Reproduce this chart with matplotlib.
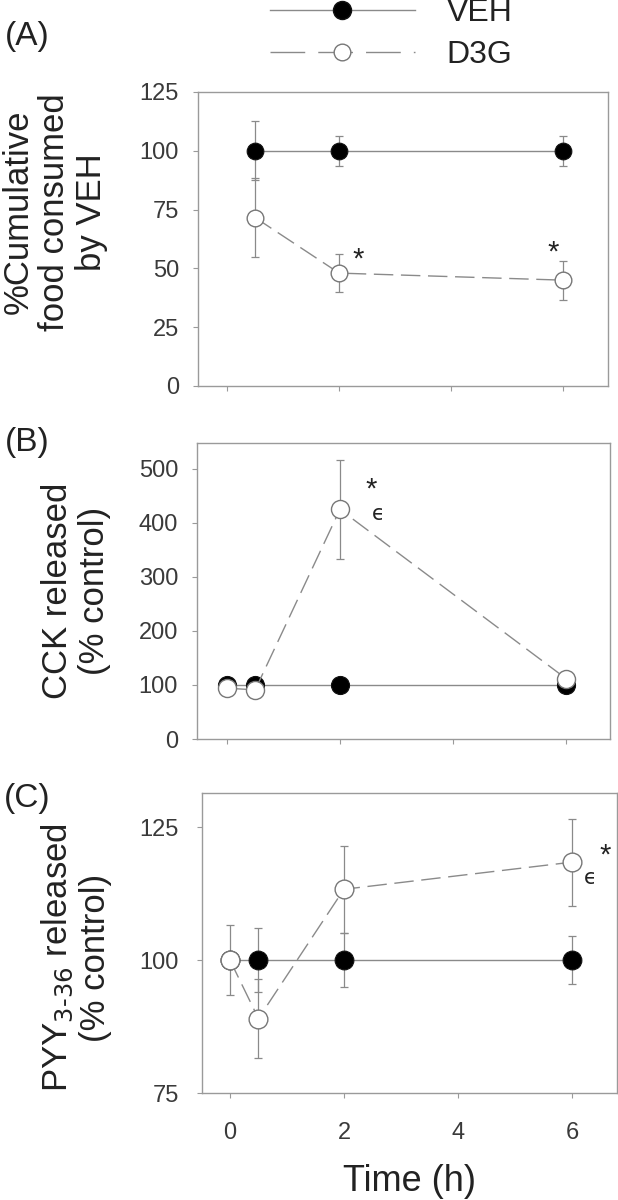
import matplotlib
matplotlib.use("Agg")
import matplotlib.pyplot as plt
from matplotlib.lines import Line2D

plt.rcParams['font.family'] = ['Liberation Sans', 'DejaVu Sans']

# ---------------- data ----------------
# Panel A: % cumulative food consumed by VEH
a_time = [0.5, 2, 6]
a_veh = [100, 100, 100]
a_veh_err = [12.5, 6.5, 6.5]
a_d3g = [71.6, 48, 45]
a_d3g_err = [16.8, 8, 8.3]

# Panel B: CCK released (% control)
b_time = [0, 0.5, 2, 6]
b_veh = [100, 100, 100, 100]
b_veh_err = [0, 0, 0, 0]
b_d3g = [94, 91, 425, 112]
b_d3g_err = [0, 0, 92, 0]

# Panel C: PYY3-36 released (% control)
c_time = [0, 0.5, 2, 6]
c_veh = [100, 100, 100, 100]
c_veh_err = [0, 6, 5, 4.5]
c_d3g = [100, 89, 113.3, 118.4]
c_d3g_err = [6.5, 7.5, 8.2, 8.2]

# significance marks (symbol, time, value)
a_marks = [("*", 2.34, 57), ("*", 5.82, 60)]
b_marks = [("*", 2.55, 476), ("\u03f5", 2.68, 415)]
c_marks = [("*", 6.58, 121.2), ("\u03f5", 6.32, 115.4)]

x_ticks = [0, 2, 4, 6]
a_yticks = [0, 25, 50, 75, 100, 125]
b_yticks = [0, 100, 200, 300, 400, 500]
c_yticks = [75, 100, 125]

# ---------------- style ----------------
W, H = 618, 1200
fig = plt.figure(figsize=(W / 100, H / 100), dpi=100)

SPINE = '#9a9a9a'
LINE = '#8a8a8a'
ERR = '#8a8a8a'
TXT = '#3a3a3a'
DASH = (14, 5.5)


def box(l, r, t, b):
    return [l / W, 1 - b / H, (r - l) / W, (b - t) / H]


axA = fig.add_axes(box(198, 608, 92, 386))
axB = fig.add_axes(box(197, 610, 443, 739))
axC = fig.add_axes(box(202, 617, 793, 1093))


def panel(ax, t_veh, veh, veh_err, t_d3g, d3g, d3g_err, ms):
    ax.errorbar(t_veh, veh, yerr=veh_err, fmt='none', ecolor=ERR,
                elinewidth=0.9, capsize=2.6, capthick=0.9, zorder=2)
    ax.errorbar(t_d3g, d3g, yerr=d3g_err, fmt='none', ecolor=ERR,
                elinewidth=0.9, capsize=2.6, capthick=0.9, zorder=2)
    ax.plot(t_veh, veh, '-', color=LINE, lw=1.0, marker='o', ms=ms,
            mfc='black', mec='#111111', mew=0.8, zorder=3)
    ax.plot(t_d3g, d3g, color=LINE, lw=1.0, dashes=DASH, marker='o', ms=ms,
            mfc='white', mec='#777777', mew=1.0, zorder=4)
    for s in ax.spines.values():
        s.set_color(SPINE)
        s.set_linewidth(1.0)
    ax.set_xticks(x_ticks)
    ax.tick_params(direction='out', length=3.6, width=0.8, color=SPINE,
                   labelsize=17, labelcolor=TXT)
    ax.tick_params(axis='y', pad=10)
    ax.tick_params(axis='x', pad=17)


panel(axA, a_time, a_veh, a_veh_err, a_time, a_d3g, a_d3g_err, 12)
panel(axB, b_time, b_veh, b_veh_err, b_time, b_d3g, b_d3g_err, 13)
panel(axC, c_time, c_veh, c_veh_err, c_time, c_d3g, c_d3g_err, 13.5)

axA.set_xlim(-0.52, 6.8)
axA.set_ylim(0, 125)
axA.set_yticks(a_yticks)
axA.tick_params(axis='x', labelbottom=False)

axB.set_xlim(-0.53, 6.78)
axB.set_ylim(0, 548)
axB.set_yticks(b_yticks)
axB.tick_params(axis='x', labelbottom=False)

axC.set_xlim(-0.49, 6.79)
axC.set_ylim(75, 131.4)
axC.set_yticks(c_yticks)
axC.tick_params(axis='y', pad=13)
axC.set_xlabel("Time (h)", fontsize=26, color='#222222', labelpad=15)


def marks(ax, items):
    for sym, x, y in items:
        if sym == "*":
            ax.annotate(sym, (x, y), xytext=(0, -11.5), textcoords='offset points',
                        ha='center', va='baseline', fontsize=21, color='#222222')
        else:
            ax.annotate(sym, (x, y), xytext=(0, -4), textcoords='offset points',
                        ha='center', va='baseline', fontsize=15, color='#222222',
                        family=['DejaVu Sans'])


marks(axA, a_marks)
marks(axB, b_marks)
marks(axC, c_marks)

# y labels
fig.text(55 / W, 1 - 212 / H, "%Cumulative\nfood consumed\nby VEH", rotation=90,
         ha='center', va='center', multialignment='center', fontsize=25,
         color='#222222', linespacing=1.15)
fig.text(76 / W, 1 - 591 / H, "CCK released\n(% control)", rotation=90,
         ha='center', va='center', multialignment='center', fontsize=25,
         color='#222222', linespacing=1.15)
fig.text(76 / W, 1 - 958 / H, "PYY$_{3\\text{-}36}$ released\n(% control)", rotation=90,
         ha='center', va='center', multialignment='center', fontsize=25,
         color='#222222', linespacing=1.15)

# panel letters
for lab, yc in (("(A)", 37), ("(B)", 442), ("(C)", 798)):
    fig.text(27 / W, 1 - yc / H, lab, ha='center', va='center', fontsize=24,
             color='#222222')

# legend
h_veh = Line2D([], [], color=LINE, lw=1.0, marker='o', ms=13,
               mfc='black', mec='#111111')
h_d3g = Line2D([], [], color=LINE, lw=1.0, dashes=(25, 9.4), marker='o', ms=12,
               mfc='white', mec='#777777')
fig.legend([h_veh, h_d3g], ["VEH", "D3G"], loc='center',
           bbox_to_anchor=(391 / W, 1 - 34 / H), frameon=False, fontsize=23,
           handlelength=4.54, handletextpad=1.0, borderpad=0, labelspacing=0.36,
           labelcolor='#222222')

fig.savefig("out.png", dpi=100)
